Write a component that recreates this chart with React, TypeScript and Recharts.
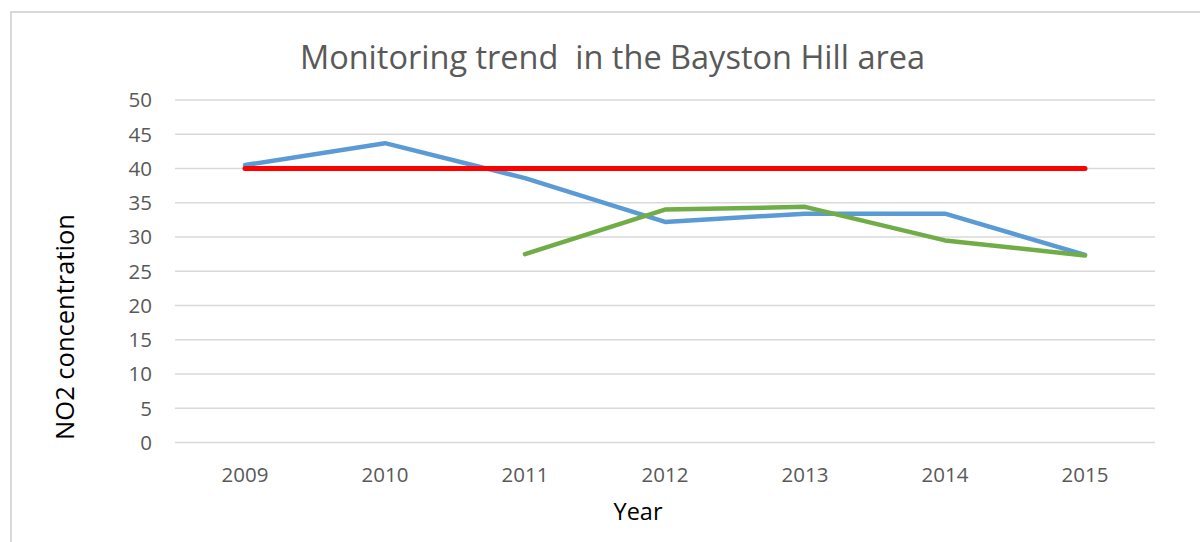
import React from 'react';
import { LineChart, Line, XAxis, YAxis, CartesianGrid } from 'recharts';

const years = ['2009', '2010', '2011', '2012', '2013', '2014', '2015'];
const blueSeries = [40.5, 43.7, 38.6, 32.2, 33.4, 33.4, 27.4];
const greenSeries: (number | null)[] = [null, null, 27.5, 34.0, 34.4, 29.5, 27.3];
const limitSeries = [40, 40, 40, 40, 40, 40, 40];
const yTicks = [0, 5, 10, 15, 20, 25, 30, 35, 40, 45, 50];

const data = years.map((y, i) => ({
  year: y,
  blue: blueSeries[i],
  green: greenSeries[i],
  limit: limitSeries[i],
}));

const FONT = '"Open Sans", sans-serif';

export default function App() {
  return (
    <div style={{ position: 'absolute', left: 0, top: 0, width: 1200, height: 542, overflow: 'hidden', background: '#fff' }}>
      <div
        style={{
          position: 'absolute',
          left: 10,
          top: 11,
          width: 1200,
          height: 600,
          border: '2px solid #d9d9d9',
          boxSizing: 'border-box',
        }}
      />
      <LineChart
        width={1200}
        height={542}
        data={data}
        margin={{ top: 100, right: 45, left: 115, bottom: 0 }}
        style={{ position: 'absolute', left: 0, top: 0 }}
      >
        <CartesianGrid vertical={false} stroke="#d9d9d9" strokeWidth={1.5} />
        <XAxis
          dataKey="year"
          height={99.5}
          padding={{ left: 70, right: 70 }}
          axisLine={false}
          tickLine={false}
          tickSize={0}
          tickMargin={25}
          interval={0}
          tick={{ fill: '#595959', fontSize: 20.5, fontFamily: FONT }}
        />
        <YAxis
          width={60}
          domain={[0, 50]}
          ticks={yTicks}
          axisLine={false}
          tickLine={false}
          tickSize={0}
          tickMargin={23}
          interval={0}
          tick={{ fill: '#595959', fontSize: 20.5, fontFamily: FONT }}
        />
        <Line dataKey="blue" stroke="#5b9bd5" strokeWidth={4.5} dot={false} isAnimationActive={false} strokeLinecap="round" strokeLinejoin="round" />
        <Line dataKey="green" stroke="#70ad47" strokeWidth={4.5} dot={false} isAnimationActive={false} strokeLinecap="round" strokeLinejoin="round" />
        <Line dataKey="limit" stroke="#ff0000" strokeWidth={5} dot={false} isAnimationActive={false} strokeLinecap="round" strokeLinejoin="round" />
      </LineChart>
      <div
        style={{
          position: 'absolute',
          left: 0,
          width: 1225,
          top: 35,
          textAlign: 'center',
          fontFamily: FONT,
          fontSize: 32.5,
          color: '#595959',
          whiteSpace: 'pre',
          lineHeight: '44px',
        }}
      >
        {'Monitoring trend  in the Bayston Hill area'}
      </div>
      <div
        style={{
          position: 'absolute',
          left: 0,
          width: 1276,
          top: 495,
          textAlign: 'center',
          fontFamily: FONT,
          fontSize: 23.5,
          color: '#000',
          lineHeight: '32px',
        }}
      >
        Year
      </div>
      <div
        style={{
          position: 'absolute',
          left: 64,
          top: 327,
          transform: 'translate(-50%, -50%) rotate(-90deg)',
          fontFamily: FONT,
          fontSize: 25.5,
          color: '#000',
          whiteSpace: 'nowrap',
          lineHeight: '34px',
        }}
      >
        NO2 concentration
      </div>
    </div>
  );
}
